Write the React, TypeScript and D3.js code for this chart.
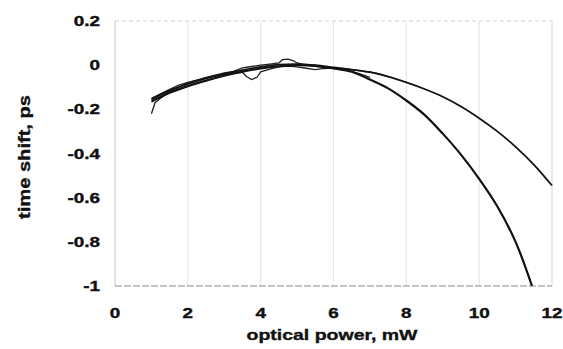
import * as d3 from "d3";

// fitted curves (x in mW, y in ps)
const fitAX = [1, 1.5, 2, 2.5, 3, 3.5, 4, 4.5, 5, 5.5, 6, 6.5, 7, 7.5, 8, 8.5, 9, 9.5, 10, 10.5, 11, 11.45];
const fitAY = [-0.165, -0.125, -0.095, -0.07, -0.048, -0.03, -0.015, -0.005, 0.0, -0.003, -0.015, -0.03, -0.065, -0.105, -0.16, -0.225, -0.31, -0.405, -0.515, -0.64, -0.8, -1.0];

const fitBX = [1, 1.5, 2, 2.5, 3, 3.5, 4, 4.5, 5, 5.5, 6, 6.5, 7, 7.5, 8, 8.5, 9, 9.5, 10, 10.5, 11, 11.5, 12];
const fitBY = [-0.155, -0.115, -0.085, -0.06, -0.04, -0.022, -0.008, 0.002, 0.005, 0.0, -0.01, -0.02, -0.032, -0.052, -0.078, -0.108, -0.143, -0.187, -0.24, -0.3, -0.37, -0.45, -0.545];

// measured (noisy) traces
const meas1X = [1, 1.1, 1.25, 1.5, 1.75, 2, 2.25, 2.5, 2.75, 3, 3.25, 3.5, 3.75, 4, 4.25, 4.5, 4.6, 4.75, 4.9, 5, 5.25, 5.5, 5.75, 6, 6.25, 6.5, 6.75, 7];
const meas1Y = [-0.22, -0.17, -0.15, -0.12, -0.1, -0.08, -0.068, -0.055, -0.045, -0.035, -0.028, -0.012, -0.006, 0.0, 0.005, 0.01, 0.025, 0.027, 0.02, 0.01, 0.0, -0.005, -0.01, -0.015, -0.02, -0.028, -0.04, -0.055];

const meas2X = [1, 1.25, 1.5, 1.75, 2, 2.25, 2.5, 2.75, 3, 3.25, 3.5, 3.6, 3.75, 3.9, 4, 4.25, 4.5, 4.75, 5, 5.25, 5.5, 5.75, 6, 6.25, 6.5, 6.75, 7, 7.25, 7.5];
const meas2Y = [-0.15, -0.13, -0.11, -0.09, -0.078, -0.068, -0.058, -0.05, -0.042, -0.036, -0.032, -0.05, -0.065, -0.055, -0.03, -0.018, -0.008, -0.004, -0.008, -0.014, -0.02, -0.015, -0.012, -0.015, -0.02, -0.026, -0.03, -0.04, -0.052];

const xTicks = [0, 2, 4, 6, 8, 10, 12];
const yTicks = [0.2, 0, -0.2, -0.4, -0.6, -0.8, -1];
const gridX = [2, 4, 6, 8, 10];

const W = 563;
const H = 349;

type Pt = [number, number];
const zip = (xs: number[], ys: number[]): Pt[] => xs.map((x, i) => [x, ys[i]]);

export default function App() {
  const x = d3.scaleLinear().domain([0, 12]).range([115, 552]);
  const y = d3.scaleLinear().domain([-1, 0.2]).range([286, 21]);

  const smooth = d3
    .line<Pt>()
    .x((d) => x(d[0]))
    .y((d) => y(d[1]))
    .curve(d3.curveCatmullRom);
  const raw = d3
    .line<Pt>()
    .x((d) => x(d[0]))
    .y((d) => y(d[1]));

  const fmt = (v: number) => (v === 0 ? "0" : String(v));
  const font = "'Liberation Sans', Arial, sans-serif";

  return (
    <svg
      width={W}
      height={H}
      style={{ position: "absolute", left: 0, top: 0, background: "#fff" }}
      fontFamily={font}
      fontWeight="bold"
    >
      {/* vertical grid */}
      {gridX.map((g) => (
        <line key={g} x1={x(g)} x2={x(g)} y1={y(0.2)} y2={y(-1)} stroke="#e6e6e6" strokeWidth={1.2} />
      ))}
      {/* frame */}
      <line x1={x(0)} x2={x(12)} y1={y(0.2)} y2={y(0.2)} stroke="#d4d4d4" strokeDasharray="4,3" />
      <line x1={x(0)} x2={x(0)} y1={y(0.2)} y2={y(-1)} stroke="#c4c4c4" />
      <line x1={x(12)} x2={x(12)} y1={y(0.2)} y2={y(-1)} stroke="#d4d4d4" />
      <line x1={x(0)} x2={x(12)} y1={y(-1)} y2={y(-1)} stroke="#8a8a8a" strokeWidth={1.2} strokeDasharray="7,2" />

      {/* measured */}
      <path d={raw(zip(meas1X, meas1Y)) ?? ""} fill="none" stroke="#222" strokeWidth={1.3} />
      <path d={raw(zip(meas2X, meas2Y)) ?? ""} fill="none" stroke="#222" strokeWidth={1.3} />
      {/* fits */}
      <path d={smooth(zip(fitAX, fitAY)) ?? ""} fill="none" stroke="#111" strokeWidth={2.2} />
      <path d={smooth(zip(fitBX, fitBY)) ?? ""} fill="none" stroke="#111" strokeWidth={1.8} />

      <g fill="#111" stroke="#111" strokeWidth={0.35}>
        {/* y tick labels */}
        {yTicks.map((t) => (
          <text
            key={t}
            transform={`translate(100,${y(t) + 5}) scale(1.35,1)`}
            textAnchor="end"
            fontSize={14}
          >
            {fmt(t)}
          </text>
        ))}
        {/* x tick labels */}
        {xTicks.map((t) => (
          <text
            key={t}
            transform={`translate(${x(t)},${318}) scale(1.35,1)`}
            textAnchor="middle"
            fontSize={14}
          >
            {t}
          </text>
        ))}

        <text
          x={332}
          y={340}
          textAnchor="middle"
          fontSize={15}
          textLength={171}
          lengthAdjust="spacingAndGlyphs"
        >
          optical power, mW
        </text>
        <text
          transform={`translate(30,157) rotate(-90)`}
          textAnchor="middle"
          fontSize={16}
          textLength={124}
          lengthAdjust="spacingAndGlyphs"
        >
          time shift, ps
        </text>
      </g>
    </svg>
  );
}
